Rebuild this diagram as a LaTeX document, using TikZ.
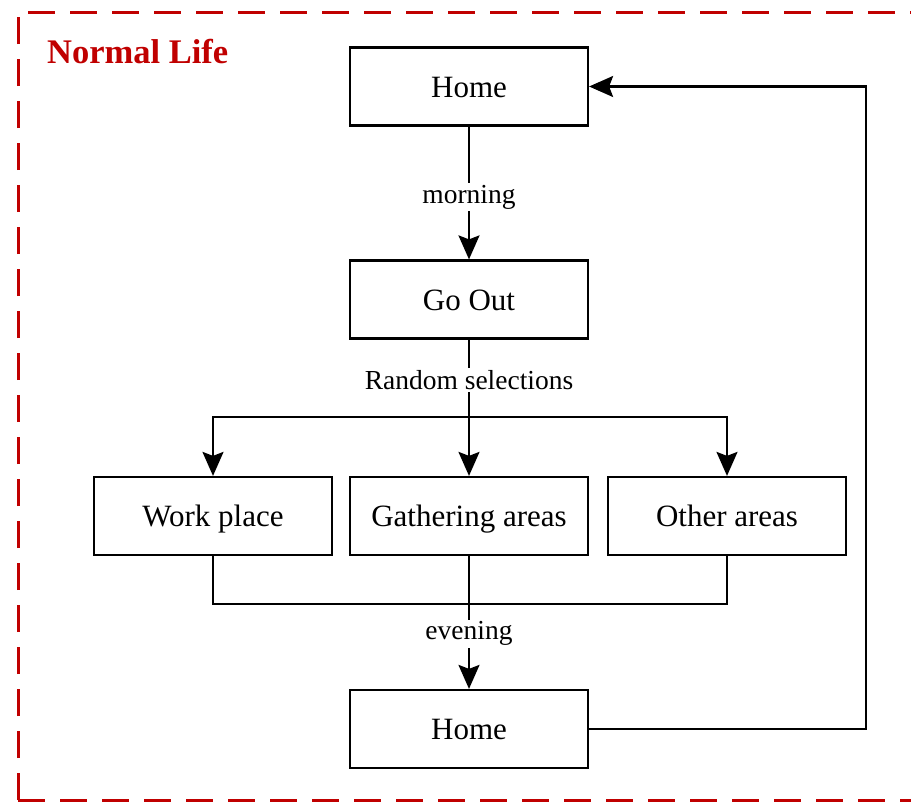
\documentclass[tikz,border=0pt]{standalone}
\usepackage{fontspec}
\setmainfont{Liberation Serif}
\usetikzlibrary{arrows.meta}
\definecolor{framered}{HTML}{C00000}
\begin{document}
\begin{tikzpicture}[x=1pt,y=-1pt,
  box/.style={draw=black,line width=2.2pt,fill=white,minimum width=238pt,minimum height=78pt,inner sep=0pt,
    text height=24pt,text depth=3pt,font=\fontsize{31}{36}\selectfont},
  lbl/.style={fill=white,inner sep=2pt,font=\fontsize{27.5}{32}\selectfont},
  conn/.style={line width=2.2pt,black},
  arr/.style={conn,-{Stealth[length=24pt,width=21pt,inset=4pt]}}]
\useasboundingbox (0,0) rectangle (911,803);
% outer dashed frame
\draw[framered,line width=3pt,dash pattern=on 27pt off 15pt] (18,800) -- (18,12) -- (916,12);
\draw[framered,line width=3pt,dash pattern=on 27pt off 15pt] (18,800) -- (916,800);
\node[anchor=base west,text=framered,inner sep=0pt,font=\fontsize{34.5}{40}\selectfont\bfseries] (title) at (47,63) {Normal Life};
% boxes
\node[box] (home1) at (469,86.5) {Home};
\node[box] (goout) at (469,299.5) {Go Out};
\node[box] (work) at (213,516) {Work place};
\node[box] (gather) at (469,516) {Gathering areas};
\node[box] (other) at (727,516) {Other areas};
\node[box] (home2) at (469,729) {Home};
% junctions
\coordinate (split) at (469,417);
\coordinate (merge) at (469,604);
\coordinate (loop) at (866,729);
% connectors
\draw[arr] (home1) -- node[lbl,pos=0.53] {morning} (goout);
\draw[conn] (goout) -- node[lbl,pos=0.52] {Random selections} (split);
\draw[arr] (split) -- (gather.north);
\draw[arr] (split) -| (work.north);
\draw[arr] (split) -| (other.north);
\draw[conn] (work.south) |- (merge);
\draw[conn] (other.south) |- (merge);
\draw[conn] (gather.south) -- (merge);
\draw[arr] (merge) -- node[lbl,pos=0.35] {evening} (home2);
\draw[arr] (home2.east) -- (loop) -- (loop |- home1.east) -- (home1.east);
\end{tikzpicture}
\end{document}
